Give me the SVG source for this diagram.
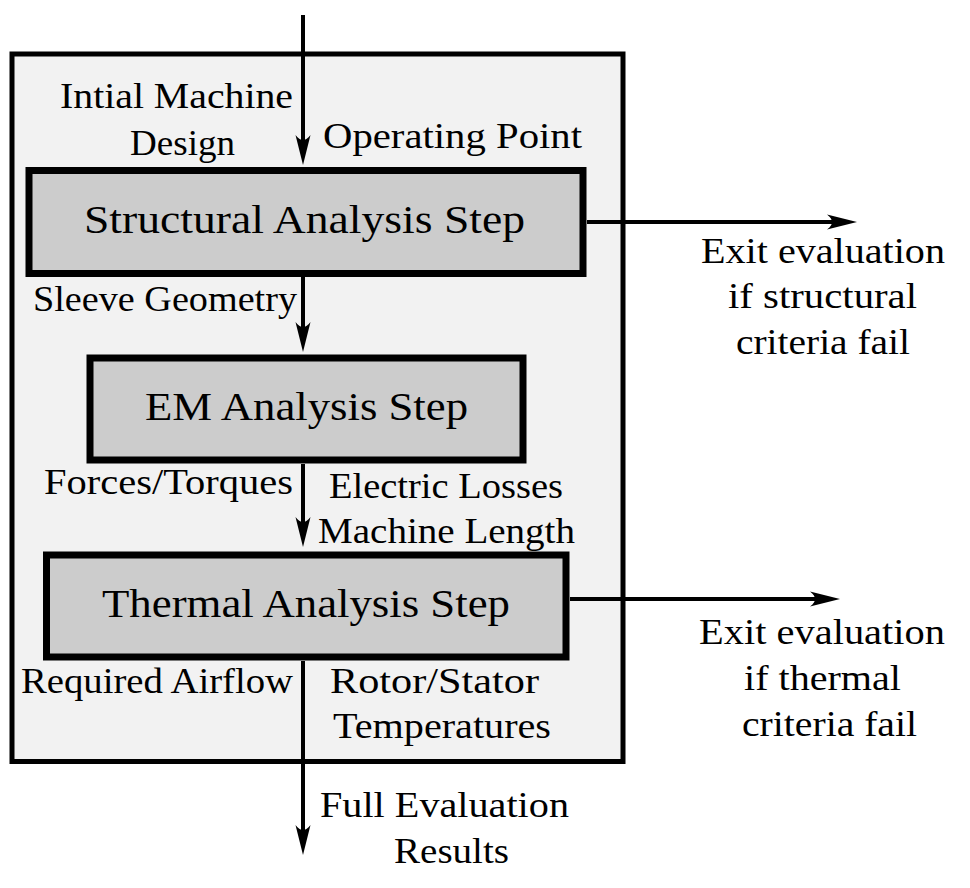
<svg xmlns="http://www.w3.org/2000/svg" width="970" height="888" viewBox="0 0 970 888">
<defs>
<style>
text{font-family:"Liberation Serif","DejaVu Serif",serif;fill:#000}
.lbl{font-size:35px}
.big{font-size:40px}
.step{fill:#cccccc;stroke:#000;stroke-width:7}
.conn{stroke:#000;stroke-width:4;fill:none}
</style>
<marker id="ah" viewBox="0 0 30 16" markerWidth="30" markerHeight="16" markerUnits="userSpaceOnUse" refX="8" refY="8" orient="auto">
<path d="M30,8 L0,0.5 Q10,8 0,15.5 Z" fill="#000"/>
</marker>
</defs>
<rect id="frame" x="12" y="54" width="611" height="707.5" fill="#f2f2f2" stroke="#000" stroke-width="5"/>
<g id="connectors">
<line class="conn" x1="303" y1="15" x2="303" y2="143" marker-end="url(#ah)"/>
<line class="conn" x1="303" y1="277" x2="303" y2="330" marker-end="url(#ah)"/>
<line class="conn" x1="303" y1="464" x2="303" y2="525" marker-end="url(#ah)"/>
<line class="conn" x1="303" y1="661" x2="303" y2="833" marker-end="url(#ah)"/>
<line class="conn" x1="587" y1="222" x2="835" y2="222" marker-end="url(#ah)"/>
<line class="conn" x1="570" y1="599" x2="818" y2="599" marker-end="url(#ah)"/>
</g>
<g id="structural">
<rect class="step" x="29" y="170.5" width="554" height="103"/>
<text class="big" x="84" y="233" textLength="441" lengthAdjust="spacingAndGlyphs">Structural Analysis Step</text>
</g>
<g id="em">
<rect class="step" x="90" y="358" width="433" height="102"/>
<text class="big" x="145" y="420" textLength="323" lengthAdjust="spacingAndGlyphs">EM Analysis Step</text>
</g>
<g id="thermal">
<rect class="step" x="46.5" y="555" width="519.5" height="102"/>
<text class="big" x="102" y="617" textLength="408" lengthAdjust="spacingAndGlyphs">Thermal Analysis Step</text>
</g>
<g id="labels">
<text class="lbl" x="60" y="108" textLength="233" lengthAdjust="spacingAndGlyphs">Intial Machine</text>
<text class="lbl" x="130" y="155" textLength="105" lengthAdjust="spacingAndGlyphs">Design</text>
<text class="lbl" x="323" y="148" textLength="259" lengthAdjust="spacingAndGlyphs">Operating Point</text>
<text class="lbl" x="33" y="311" textLength="264" lengthAdjust="spacingAndGlyphs">Sleeve Geometry</text>
<text class="lbl" x="44" y="494" textLength="249" lengthAdjust="spacingAndGlyphs">Forces/Torques</text>
<text class="lbl" x="329" y="498" textLength="234" lengthAdjust="spacingAndGlyphs">Electric Losses</text>
<text class="lbl" x="318" y="543" textLength="257" lengthAdjust="spacingAndGlyphs">Machine Length</text>
<text class="lbl" x="21" y="693" textLength="272" lengthAdjust="spacingAndGlyphs">Required Airflow</text>
<text class="lbl" x="330" y="693" textLength="209" lengthAdjust="spacingAndGlyphs">Rotor/Stator</text>
<text class="lbl" x="333" y="738" textLength="218" lengthAdjust="spacingAndGlyphs">Temperatures</text>
<text class="lbl" x="320" y="817" textLength="249" lengthAdjust="spacingAndGlyphs">Full Evaluation</text>
<text class="lbl" x="394" y="863" textLength="115" lengthAdjust="spacingAndGlyphs">Results</text>
<text class="lbl" x="701" y="263" textLength="244" lengthAdjust="spacingAndGlyphs">Exit evaluation</text>
<text class="lbl" x="728" y="308" textLength="189" lengthAdjust="spacingAndGlyphs">if structural</text>
<text class="lbl" x="736" y="354" textLength="174" lengthAdjust="spacingAndGlyphs">criteria fail</text>
<text class="lbl" x="699" y="644" textLength="246" lengthAdjust="spacingAndGlyphs">Exit evaluation</text>
<text class="lbl" x="744" y="690" textLength="157" lengthAdjust="spacingAndGlyphs">if thermal</text>
<text class="lbl" x="742" y="736" textLength="175" lengthAdjust="spacingAndGlyphs">criteria fail</text>
</g>
</svg>
